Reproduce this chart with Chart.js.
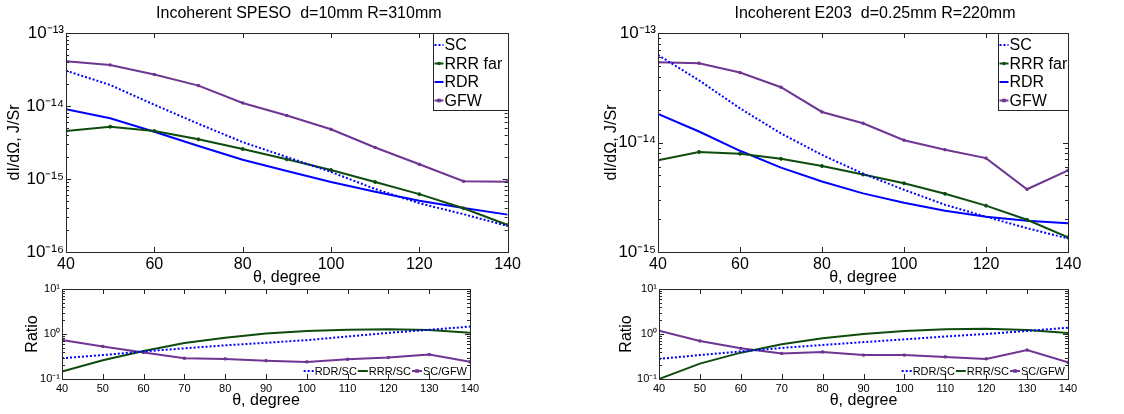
<!DOCTYPE html>
<html>
<head>
<meta charset="utf-8">
<script src="https://cdn.jsdelivr.net/npm/chart.js@4.4.1/dist/chart.umd.min.js"></script>
<style>
    body { margin: 0; background: #fff; width: 1124px; height: 414px; position: relative; overflow: hidden; }
    canvas { position: absolute; }
</style>
</head>
<body>
<canvas id="speso" width="524" height="287" style="left:0;top:0"></canvas>
<canvas id="spesoRatio" width="524" height="134" style="left:0;top:280px"></canvas>
<canvas id="e203" width="524" height="287" style="left:562px;top:0"></canvas>
<canvas id="e203Ratio" width="524" height="134" style="left:562px;top:280px"></canvas>
<script>
(function() {

    var theta = [40, 50, 60, 70, 80, 90, 100, 110, 120, 130, 140];

    // Incoherent SPESO, d=10mm, R=310mm
    var spesoSC  = [3.05e-14, 1.94e-14, 1.04e-14, 5.7e-15, 3.2e-15, 2.0e-15, 1.25e-15, 7.3e-16, 4.65e-16, 3.3e-16, 2.27e-16];
    var spesoRRR = [4.55e-15, 5.2e-15, 4.55e-15, 3.5e-15, 2.58e-15, 1.86e-15, 1.33e-15, 9.1e-16, 6.2e-16, 3.97e-16, 2.34e-16];
    var spesoRDR = [9.0e-15, 6.8e-15, 4.45e-15, 2.83e-15, 1.84e-15, 1.29e-15, 9.1e-16, 6.7e-16, 5.05e-16, 4.0e-16, 3.25e-16];
    var spesoGFW = [4.1e-14, 3.65e-14, 2.7e-14, 1.9e-14, 1.1e-14, 7.4e-15, 4.8e-15, 2.7e-15, 1.59e-15, 9.3e-16, 9.2e-16];

    var spesoRdrSc = [0.29, 0.34, 0.41, 0.48, 0.56, 0.64, 0.73, 0.88, 1.06, 1.24, 1.46];
    var spesoRrrSc = [0.146, 0.26, 0.42, 0.63, 0.83, 1.02, 1.16, 1.24, 1.27, 1.23, 1.07];
    var spesoScGfw = [0.74, 0.53, 0.39, 0.29, 0.28, 0.255, 0.24, 0.275, 0.30, 0.35, 0.24];

    // Incoherent E203, d=0.25mm, R=220mm
    var e203SC  = [6.3e-14, 3.7e-14, 2.05e-14, 1.21e-14, 7.7e-15, 5.2e-15, 3.7e-15, 2.7e-15, 2.1e-15, 1.65e-15, 1.33e-15];
    var e203RRR = [6.9e-15, 8.2e-15, 7.9e-15, 7.1e-15, 6.1e-15, 5.1e-15, 4.24e-15, 3.4e-15, 2.65e-15, 1.97e-15, 1.36e-15];
    var e203RDR = [1.82e-14, 1.26e-14, 8.4e-15, 5.9e-15, 4.4e-15, 3.43e-15, 2.82e-15, 2.38e-15, 2.1e-15, 1.93e-15, 1.83e-15];
    var e203GFW = [5.4e-14, 5.3e-14, 4.35e-14, 3.2e-14, 1.9e-14, 1.5e-14, 1.05e-14, 8.6e-15, 7.2e-15, 3.74e-15, 5.57e-15];

    var e203RdrSc = [0.28, 0.34, 0.41, 0.49, 0.57, 0.66, 0.76, 0.88, 1.0, 1.17, 1.38];
    var e203RrrSc = [0.10, 0.22, 0.385, 0.59, 0.80, 1.0, 1.17, 1.27, 1.31, 1.23, 1.05];
    var e203ScGfw = [1.19, 0.70, 0.48, 0.37, 0.40, 0.34, 0.34, 0.31, 0.28, 0.44, 0.235];

    var topLabels = ['SC', 'RRR far', 'RDR', 'GFW'];
    var ratioLabels = ['RDR/SC', 'RRR/SC', 'SC/GFW'];

    var FONT = "'Liberation Sans', Arial, Helvetica, sans-serif";
    var BLUE = '#0000ff';
    var GREEN = '#0d4c0d';
    var PURPLE = '#6e3592';
    var AXIS = '#262626';

    function points(xs, ys) {
        var output = [];
        for (var i = 0; i < xs.length; i++) {
            output.push({x: xs[i], y: ys[i]});
        }
        return output;
    }

    function series(label, values, color, dash, marker) {
        return {
            label: label,
            data: points(theta, values),
            borderColor: color,
            backgroundColor: color,
            borderWidth: 2,
            borderDash: dash || [],
            pointStyle: marker || 'circle',
            pointRadius: marker ? 1.5 : 0,
            pointBorderWidth: 1,
            pointHoverRadius: 0,
            tension: 0
        };
    }

    var supMap = {'-': '\u207B', '0': '\u2070', '1': '\u00B9', '2': '\u00B2', '3': '\u00B3',
        '4': '\u2074', '5': '\u2075', '6': '\u2076', '7': '\u2077', '8': '\u2078', '9': '\u2079'};

    function powLabel(value) {
        var e = String(Math.round(Math.log10(value)));
        var s = '';
        for (var i = 0; i < e.length; i++) s += supMap[e[i]];
        return '10' + s;
    }

    function decades(scale) {
        var lo = Math.round(Math.log10(scale.min));
        var hi = Math.round(Math.log10(scale.max));
        var t = [];
        for (var e = lo; e <= hi; e++) t.push({value: Math.pow(10, e)});
        scale.ticks = t;
    }

    // MATLAB style box with inward ticks
    var boxPlugin = {
        id: 'mlBox',
        afterDatasetsDraw: function(chart) {
            var ctx = chart.ctx, a = chart.chartArea;
            var xs = chart.scales.x, ys = chart.scales.y;
            ctx.save();
            ctx.strokeStyle = AXIS;
            ctx.lineWidth = 1;
            ctx.beginPath();
            xs.ticks.forEach(function(t) {
                var px = Math.round(xs.getPixelForValue(t.value)) + 0.5;
                ctx.moveTo(px, a.bottom); ctx.lineTo(px, a.bottom - 5);
                ctx.moveTo(px, a.top); ctx.lineTo(px, a.top + 5);
            });
            var lo = Math.round(Math.log10(ys.min)), hi = Math.round(Math.log10(ys.max));
            for (var e = lo; e < hi; e++) {
                for (var m = 1; m < 10; m++) {
                    var py = Math.round(ys.getPixelForValue(m * Math.pow(10, e))) + 0.5;
                    var len = m === 1 ? 5 : 3;
                    ctx.moveTo(a.left, py); ctx.lineTo(a.left + len, py);
                    ctx.moveTo(a.right, py); ctx.lineTo(a.right - len, py);
                }
            }
            ctx.stroke();
            ctx.strokeRect(Math.round(a.left) + 0.5, Math.round(a.top) + 0.5,
                Math.round(a.right - a.left), Math.round(a.bottom - a.top));
            ctx.restore();
        }
    };

    function drawSample(ctx, ds, x0, x1, y) {
        ctx.save();
        ctx.strokeStyle = ds.borderColor;
        ctx.lineWidth = ds.borderWidth;
        ctx.setLineDash(ds.borderDash);
        ctx.beginPath();
        ctx.moveTo(x0, y); ctx.lineTo(x1, y);
        ctx.stroke();
        if (ds.pointRadius > 0) {
            ctx.setLineDash([]);
            ctx.fillStyle = ds.borderColor;
            var r = 1.8;
            if (ds.pointStyle === 'rect') ctx.fillRect((x0 + x1) / 2 - r, y - r, 2 * r, 2 * r);
            else { ctx.beginPath(); ctx.arc((x0 + x1) / 2, y, r, 0, Math.PI * 2); ctx.fill(); }
        }
        ctx.restore();
    }

    var legendPlugin = {
        id: 'mlLegend',
        afterDraw: function(chart, args, opts) {
            var ctx = chart.ctx, a = chart.chartArea, sets = chart.data.datasets;
            ctx.save();
            ctx.font = opts.size + 'px ' + FONT;
            ctx.fillStyle = '#000';
            ctx.textBaseline = 'middle';
            if (opts.layout === 'box') {
                var x0 = Math.round(a.right - opts.width) + 0.5, y0 = Math.round(a.top) + 0.5;
                var h = sets.length * 18.5 + 3;
                ctx.fillStyle = '#fff';
                ctx.fillRect(x0, y0, opts.width, h);
                ctx.strokeStyle = AXIS;
                ctx.lineWidth = 1;
                ctx.strokeRect(x0, y0, opts.width, h);
                ctx.fillStyle = '#000';
                sets.forEach(function(ds, i) {
                    var y = y0 + 11.5 + i * 18.5;
                    drawSample(ctx, ds, x0 + 1, x0 + 10, y);
                    ctx.fillText(ds.label, x0 + 11, y + 1);
                });
            } else {
                var total = 0;
                sets.forEach(function(ds) { total += 11 + ctx.measureText(ds.label).width + 1; });
                var x = a.right - 2 - total, y = a.bottom - 8;
                sets.forEach(function(ds) {
                    drawSample(ctx, ds, x, x + 10, y);
                    x += 11;
                    ctx.fillText(ds.label, x, y + 1);
                    x += ctx.measureText(ds.label).width + 1;
                });
            }
            ctx.restore();
        }
    };

    var titlePlugin = {
        id: 'mlTitle',
        afterDraw: function(chart, args, opts) {
            if (!opts.text) return;
            var ctx = chart.ctx, a = chart.chartArea;
            ctx.save();
            ctx.font = '16px ' + FONT;
            ctx.fillStyle = '#000';
            ctx.textAlign = 'center';
            ctx.textBaseline = 'middle';
            ctx.fillText(opts.text, (a.left + a.right) / 2 + 12, 14);
            ctx.restore();
        }
    };

    function makePanel(id, sets, c) {
        var ctx = document.getElementById(id).getContext('2d');
        return new Chart(ctx, {
            type: 'line',
            data: {datasets: sets},
            plugins: [boxPlugin, legendPlugin, titlePlugin],
            options: {
                responsive: false,
                animation: false,
                events: [],
                layout: {padding: {top: c.top, right: c.right, left: 0, bottom: 0}},
                plugins: {
                    legend: {display: false},
                    tooltip: {enabled: false},
                    mlLegend: c.legend,
                    mlTitle: {text: c.title}
                },
                scales: {
                    x: {
                        type: 'linear',
                        min: 40,
                        max: 140,
                        grid: {display: false, drawTicks: false},
                        border: {display: false},
                        ticks: {stepSize: c.xStep, padding: 3, color: '#000', font: {family: FONT, size: c.xTickSize}},
                        title: {display: true, text: '\u03B8, degree', color: '#000',
                            font: {family: FONT, size: 16}, padding: {top: 0, bottom: c.xTitlePad}},
                        afterFit: function(s) { s.height = c.xHeight; }
                    },
                    y: {
                        type: 'logarithmic',
                        min: c.yMin,
                        max: c.yMax,
                        grid: {display: false, drawTicks: false},
                        border: {display: false},
                        afterBuildTicks: decades,
                        ticks: {padding: 2, color: '#000', font: {family: FONT, size: c.yTickSize},
                            callback: function(v) { return powLabel(v); }},
                        title: {display: true, text: c.yTitle, color: '#000',
                            font: {family: FONT, size: 16}, padding: {top: c.yTitlePad, bottom: 0}},
                        afterFit: function(s) { s.width = c.yWidth; }
                    }
                }
            }
        });
    }

    makePanel('speso', [
        series(topLabels[0], spesoSC, BLUE, [2, 2]),
        series(topLabels[1], spesoRRR, GREEN, null, 'circle'),
        series(topLabels[2], spesoRDR, BLUE),
        series(topLabels[3], spesoGFW, PURPLE, null, 'rect')
    ], {top: 33, right: 16, yWidth: 66, xHeight: 35, xStep: 20, xTickSize: 16, yTickSize: 17,
        xTitlePad: 0, yTitle: 'dI/d\u03A9, J/Sr', yTitlePad: 5, yMin: 1e-16, yMax: 1e-13,
        title: 'Incoherent SPESO  d=10mm R=310mm', legend: {layout: 'box', width: 75, size: 16}});

    makePanel('spesoRatio', [
        series(ratioLabels[0], spesoRdrSc, BLUE, [2, 2]),
        series(ratioLabels[1], spesoRrrSc, GREEN),
        series(ratioLabels[2], spesoScGfw, PURPLE, null, 'rect')
    ], {top: 9, right: 54, yWidth: 62, xHeight: 35, xStep: 10, xTickSize: 11, yTickSize: 11,
        xTitlePad: 4, yTitle: 'Ratio', yTitlePad: 23, yMin: 0.1, yMax: 10,
        title: '', legend: {layout: 'row', size: 11}});

    makePanel('e203', [
        series(topLabels[0], e203SC, BLUE, [2, 2]),
        series(topLabels[1], e203RRR, GREEN, null, 'circle'),
        series(topLabels[2], e203RDR, BLUE),
        series(topLabels[3], e203GFW, PURPLE, null, 'rect')
    ], {top: 33, right: 18, yWidth: 96, xHeight: 35, xStep: 20, xTickSize: 16, yTickSize: 17,
        xTitlePad: 0, yTitle: 'dI/d\u03A9, J/Sr', yTitlePad: 40, yMin: 1e-15, yMax: 1e-13,
        title: 'Incoherent E203  d=0.25mm R=220mm', legend: {layout: 'box', width: 70, size: 16}});

    makePanel('e203Ratio', [
        series(ratioLabels[0], e203RdrSc, BLUE, [2, 2]),
        series(ratioLabels[1], e203RrrSc, GREEN),
        series(ratioLabels[2], e203ScGfw, PURPLE, null, 'rect')
    ], {top: 9, right: 18, yWidth: 97, xHeight: 35, xStep: 10, xTickSize: 11, yTickSize: 11,
        xTitlePad: 4, yTitle: 'Ratio', yTitlePad: 55, yMin: 0.1, yMax: 10,
        title: '', legend: {layout: 'row', size: 11}});

})();
</script>
</body>
</html>
